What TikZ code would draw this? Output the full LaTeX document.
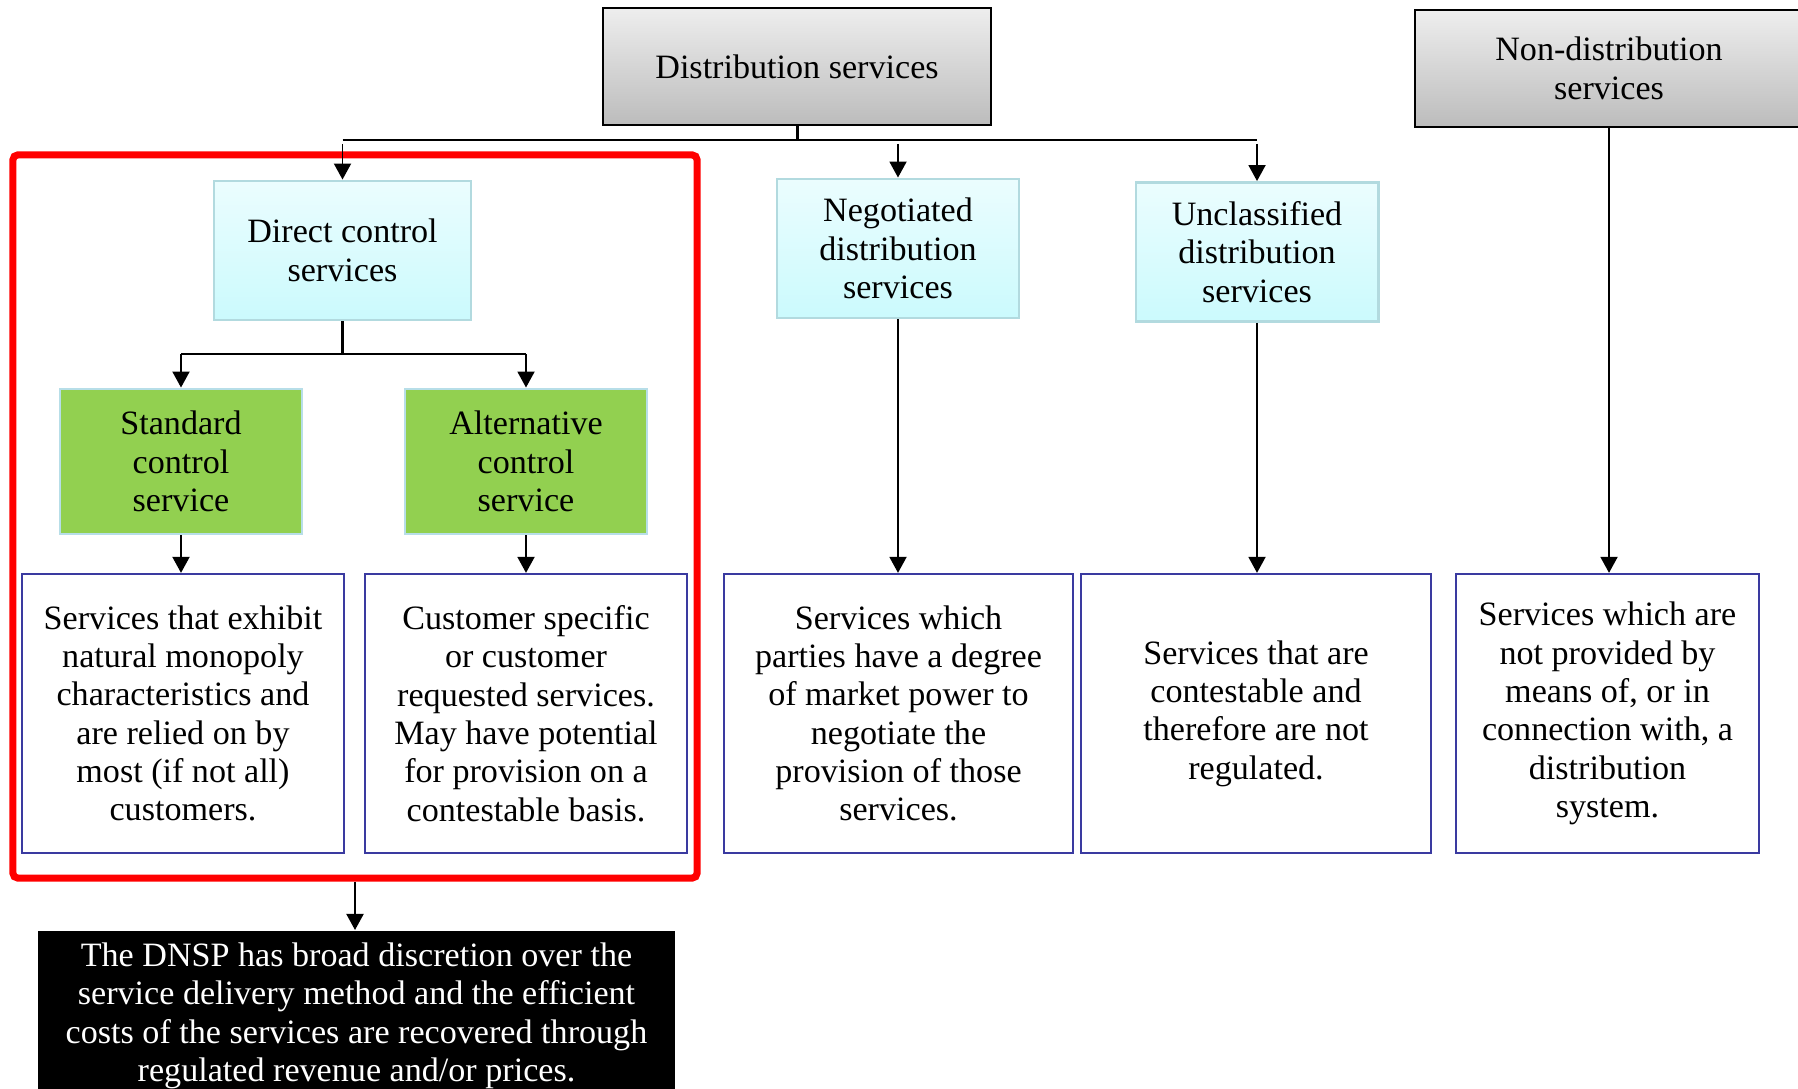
\documentclass[tikz,border=0pt]{standalone}
\usepackage{fontspec}
\setmainfont{Liberation Serif}
\usetikzlibrary{arrows.meta}

\definecolor{greytop}{HTML}{EEEEEE}
\definecolor{greybot}{HTML}{BCBCBC}
\definecolor{cyantop}{HTML}{EBFDFE}
\definecolor{cyanbot}{HTML}{CBFAFD}
\definecolor{cyanline}{HTML}{B2DADF}
\definecolor{leaf}{HTML}{92D050}
\definecolor{leafline}{HTML}{B7DEE8}
\definecolor{navy}{HTML}{3A3AA0}

\begin{document}
\begin{tikzpicture}[x=0.01cm,y=-0.01cm,
 font=\fontsize{9.7}{10.9}\selectfont,
 box/.style={align=center,inner sep=0pt},
 grey box/.style={box,draw,line width=0.7pt,top color=greytop,bottom color=greybot,
   minimum width=3.88cm,minimum height=1.17cm},
 cyan box/.style={box,draw=cyanline,line width=0.8pt,top color=cyantop,bottom color=cyanbot,
   minimum height=1.39cm},
 green box/.style={box,draw=leafline,line width=0.8pt,fill=leaf,
   minimum width=2.42cm,minimum height=1.45cm},
 desc box/.style={box,draw=navy,line width=0.6pt,fill=white,minimum height=2.79cm},
 arr/.style={line width=0.55pt,-{Triangle[length=0.16cm,width=0.17cm]}},
 link/.style={line width=0.55pt},
 stem/.style={line width=0.85pt}]

  \useasboundingbox (0,0) rectangle (1798,1089);

  % red frame round the direct control branch
  \node[draw=red,line width=2pt,rounded corners=1.5pt,minimum width=6.84cm,
    minimum height=7.23cm] (grp) at (355,516.5) {};

  \node[grey box] (dist) at (797,66.5) {Distribution services};
  \node[grey box] (nondist) at (1609,68.5) {Non-distribution\\services};

  \node[cyan box,minimum width=2.57cm] (direct) at (342.5,250.5) {Direct control\\services};
  \node[cyan box,minimum width=2.42cm] (negot) at (898,248.5) {Negotiated\\distribution\\services};
  \node[cyan box,minimum width=2.42cm] (uncl) at (1257,252) {Unclassified\\distribution\\services};

  \node[green box] (std) at (181,461.5) {Standard\\control\\service};
  \node[green box] (alt) at (526,461.5) {Alternative\\control\\service};

  \node[desc box,minimum width=3.22cm] (d1) at (183,713.5)
    {Services that exhibit\\natural monopoly\\characteristics and\\are relied on by\\most (if not all)\\customers.};
  \node[desc box,minimum width=3.22cm] (d2) at (526,713.5)
    {Customer specific\\or customer\\requested services.\\May have potential\\for provision on a\\contestable basis.};
  \node[desc box,minimum width=3.49cm] (d3) at (898.5,713.5)
    {Services which\\parties have a degree\\of market power to\\negotiate the\\provision of those\\services.};
  \node[desc box,minimum width=3.50cm] (d4) at (1256,713.5)
    {Services that are\\contestable and\\therefore are not\\regulated.};
  \node[desc box,minimum width=3.03cm] (d5) at (1607.5,713.5)
    {Services which are\\not provided by\\means of, or in\\connection with, a\\distribution\\system.};

  \node[box,fill=black,text=white,anchor=north,minimum width=6.37cm,
    inner ysep=0.12cm] (dnsp) at (356.5,930)
    {The DNSP has broad discretion over the\\service delivery method and the efficient\\costs of the services are recovered through\\regulated revenue and/or prices.};

  % top level bus
  \coordinate (bus) at (0,140);
  \coordinate (sub) at (0,354);
  \draw[stem] (dist) -- (dist |- bus);
  \draw[link] (direct |- bus) -- (uncl |- bus);
  \foreach \t in {direct, negot, uncl} {
   \draw[arr] ([yshift=-0.04cm]\t |- bus) -- (\t.north);}

  % direct control split
  \draw[stem] (direct) -- (direct |- sub);
  \draw[link] (std |- sub) -- (alt |- sub);
  \foreach \t in {std, alt} {
   \draw[arr] (\t |- sub) -- (\t.north);}

  \foreach \s/\t in {std/d1, alt/d2, negot/d3, uncl/d4, nondist/d5} {
   \path[draw,arr] (\s) -- (\s |- \t.north);}

  \draw[arr] (grp.south) -- (grp.south |- dnsp.north);
\end{tikzpicture}
\end{document}
